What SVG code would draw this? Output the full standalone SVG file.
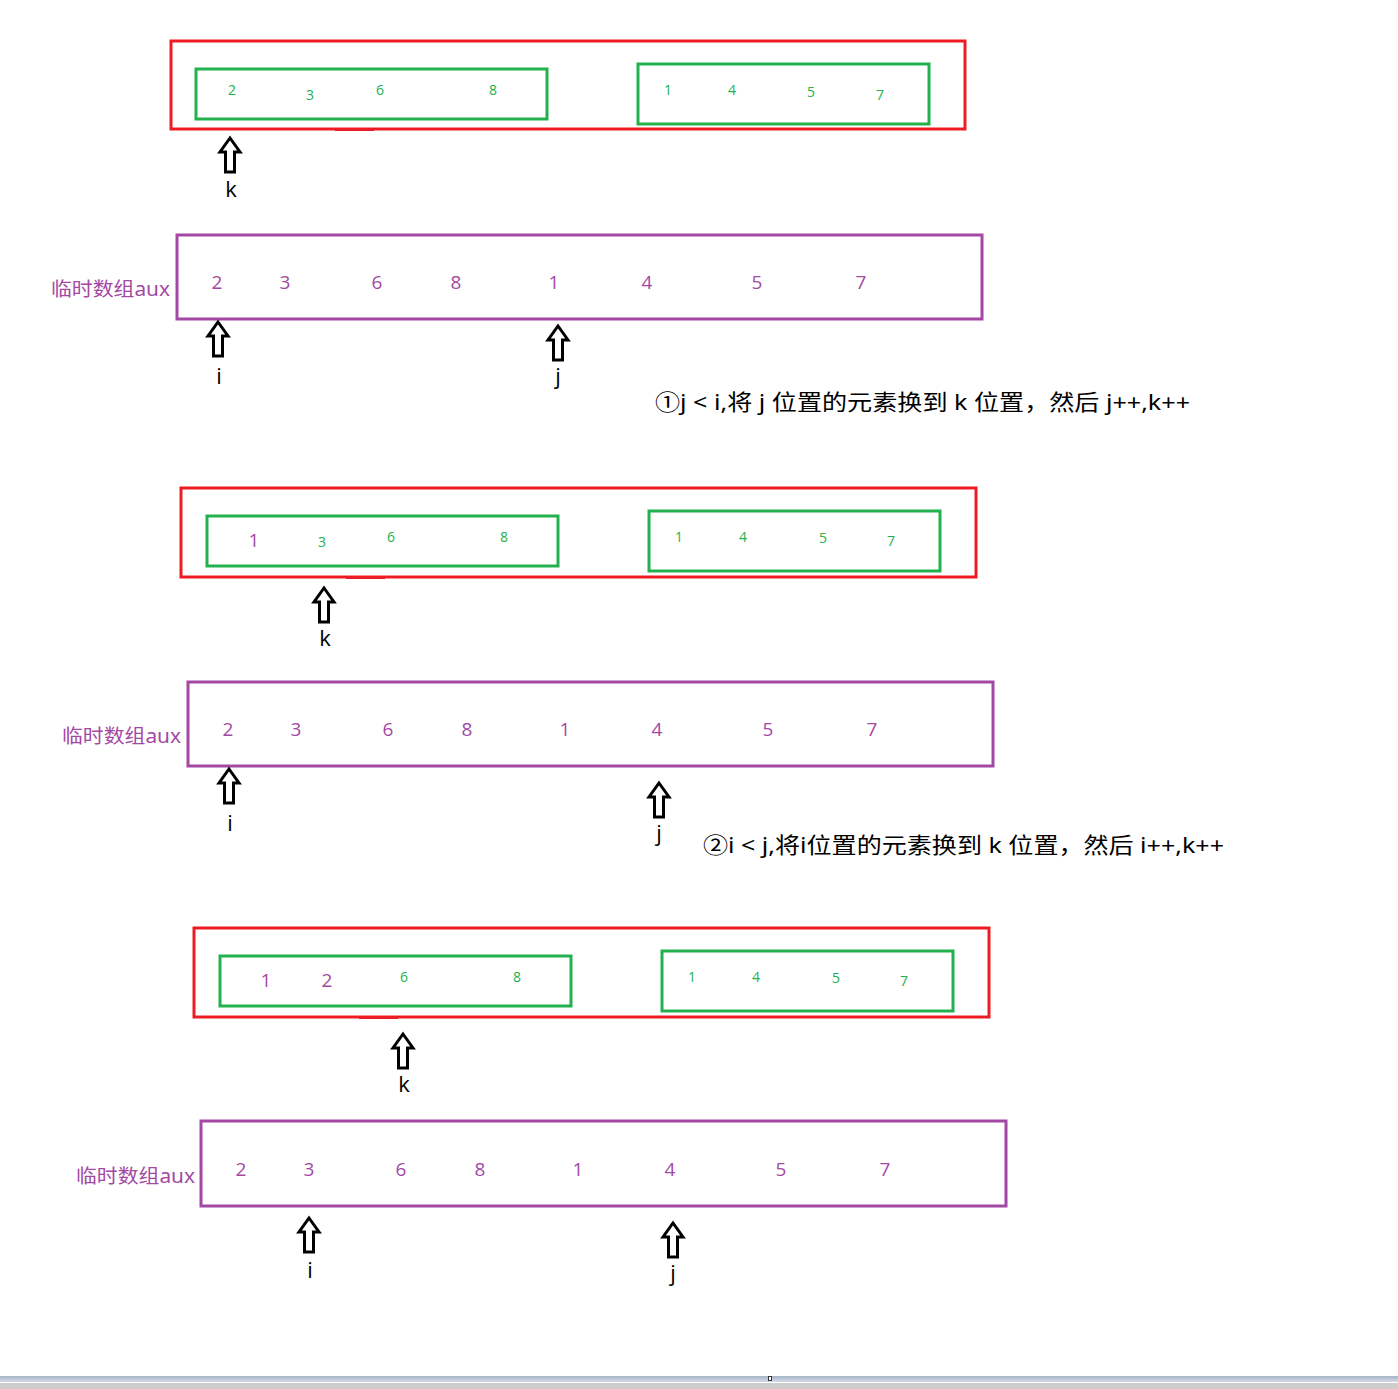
<svg xmlns="http://www.w3.org/2000/svg" width="1398" height="1389" viewBox="0 0 1398 1389">
<defs>
<style>
.red{fill:none;stroke:#ed1c24;stroke-width:3}
.grn{fill:none;stroke:#22b14c;stroke-width:3}
.pur{fill:none;stroke:#a349a4;stroke-width:3}
.gn{font-family:"Open Sans","Noto Sans",sans-serif;font-size:14px;fill:#22b14c;text-anchor:middle}
.pn{font-family:"Open Sans","Noto Sans",sans-serif;font-size:19px;fill:#a349a4;text-anchor:middle}
.lbl{font-family:"Noto Sans","Noto Sans CJK SC",sans-serif;font-size:19px;fill:#a349a4;text-anchor:end}
.ptr{font-family:"Open Sans","Noto Sans",sans-serif;font-size:22px;fill:#000;text-anchor:middle}
.note{font-family:"Noto Sans","Noto Sans CJK SC",sans-serif;font-size:22px;fill:#000}
.arr{fill:#fff;stroke:#000;stroke-width:3;stroke-linejoin:miter}
</style>
<path id="up" class="arr" d="M0,0 L10,14 L4.5,14 L4.5,34 L-4.5,34 L-4.5,14 L-10,14 Z"/>
<linearGradient id="bar" x1="0" y1="0" x2="0" y2="1"><stop offset="0" stop-color="#a7b4c6"/><stop offset="1" stop-color="#d3dbe6"/></linearGradient>
</defs>
<rect width="1398" height="1389" fill="#fff"/>

<!-- Section 1 -->
<g id="merge1">
<rect class="red" x="171" y="41" width="794" height="88"/>
<rect x="335" y="128" width="39" height="3" fill="#ed1c24"/>
<g id="left1"><rect class="grn" x="196" y="69" width="351" height="50"/>
<text class="gn" x="232" y="95">2</text><text class="gn" x="310" y="100">3</text><text class="gn" x="380" y="95">6</text><text class="gn" x="493" y="95">8</text></g>
<g id="right1"><rect class="grn" x="638" y="64" width="291" height="60"/>
<text class="gn" x="668" y="95">1</text><text class="gn" x="732" y="95">4</text><text class="gn" x="811" y="97">5</text><text class="gn" x="880" y="100">7</text></g>
</g>
<g id="k1"><use href="#up" x="230" y="138"/><text class="ptr" x="231" y="197">k</text></g>
<g id="aux1">
<text class="lbl" x="170" y="296" textLength="119" lengthAdjust="spacingAndGlyphs">临时数组aux</text>
<rect class="pur" x="177" y="235" width="805" height="84"/>
<text class="pn" x="217" y="289">2</text><text class="pn" x="285" y="289">3</text><text class="pn" x="377" y="289">6</text><text class="pn" x="456" y="289">8</text><text class="pn" x="554" y="289">1</text><text class="pn" x="647" y="289">4</text><text class="pn" x="757" y="289">5</text><text class="pn" x="861" y="289">7</text>
</g>
<g id="i1"><use href="#up" x="218" y="322"/><text class="ptr" x="219" y="384">i</text></g>
<g id="j1"><use href="#up" x="558" y="326"/><text class="ptr" x="558" y="384">j</text></g>
<text class="note" x="655" y="410" textLength="535" lengthAdjust="spacingAndGlyphs">①j &lt; i,将 j 位置的元素换到 k 位置，然后 j++,k++</text>

<!-- Section 2 -->
<g id="merge2">
<rect class="red" x="181" y="488" width="795" height="89"/>
<rect x="346" y="576" width="39" height="3" fill="#ed1c24"/>
<g id="left2"><rect class="grn" x="207" y="516" width="351" height="50"/>
<text class="pn" x="254" y="547">1</text><text class="gn" x="322" y="547">3</text><text class="gn" x="391" y="542">6</text><text class="gn" x="504" y="542">8</text></g>
<g id="right2"><rect class="grn" x="649" y="511" width="291" height="60"/>
<text class="gn" x="679" y="542">1</text><text class="gn" x="743" y="542">4</text><text class="gn" x="823" y="543">5</text><text class="gn" x="891" y="546">7</text></g>
</g>
<g id="k2"><use href="#up" x="324" y="588"/><text class="ptr" x="325" y="646">k</text></g>
<g id="aux2">
<text class="lbl" x="181" y="743" textLength="119" lengthAdjust="spacingAndGlyphs">临时数组aux</text>
<rect class="pur" x="188" y="682" width="805" height="84"/>
<text class="pn" x="228" y="736">2</text><text class="pn" x="296" y="736">3</text><text class="pn" x="388" y="736">6</text><text class="pn" x="467" y="736">8</text><text class="pn" x="565" y="736">1</text><text class="pn" x="657" y="736">4</text><text class="pn" x="768" y="736">5</text><text class="pn" x="872" y="736">7</text>
</g>
<g id="i2"><use href="#up" x="229" y="769"/><text class="ptr" x="230" y="831">i</text></g>
<g id="j2"><use href="#up" x="659" y="783"/><text class="ptr" x="659" y="841">j</text></g>
<text class="note" x="703" y="853" textLength="521" lengthAdjust="spacingAndGlyphs">②i &lt; j,将i位置的元素换到 k 位置，然后 i++,k++</text>

<!-- Section 3 -->
<g id="merge3">
<rect class="red" x="194" y="928" width="795" height="89"/>
<rect x="359" y="1016" width="39" height="3" fill="#ed1c24"/>
<g id="left3"><rect class="grn" x="220" y="956" width="351" height="50"/>
<text class="pn" x="266" y="987">1</text><text class="pn" x="327" y="987">2</text><text class="gn" x="404" y="982">6</text><text class="gn" x="517" y="982">8</text></g>
<g id="right3"><rect class="grn" x="662" y="951" width="291" height="60"/>
<text class="gn" x="692" y="982">1</text><text class="gn" x="756" y="982">4</text><text class="gn" x="836" y="983">5</text><text class="gn" x="904" y="986">7</text></g>
</g>
<g id="k3"><use href="#up" x="403" y="1034"/><text class="ptr" x="404" y="1092">k</text></g>
<g id="aux3">
<text class="lbl" x="195" y="1183" textLength="119" lengthAdjust="spacingAndGlyphs">临时数组aux</text>
<rect class="pur" x="201" y="1121" width="805" height="85"/>
<text class="pn" x="241" y="1176">2</text><text class="pn" x="309" y="1176">3</text><text class="pn" x="401" y="1176">6</text><text class="pn" x="480" y="1176">8</text><text class="pn" x="578" y="1176">1</text><text class="pn" x="670" y="1176">4</text><text class="pn" x="781" y="1176">5</text><text class="pn" x="885" y="1176">7</text>
</g>
<g id="i3"><use href="#up" x="309" y="1218"/><text class="ptr" x="310" y="1278">i</text></g>
<g id="j3"><use href="#up" x="673" y="1223"/><text class="ptr" x="673" y="1281">j</text></g>

<!-- bottom bar -->
<rect x="0" y="1376" width="1398" height="6" fill="url(#bar)"/>
<rect x="0" y="1383" width="1398" height="6" fill="#cdcdcd"/>
<rect x="768.5" y="1376.5" width="3" height="4" fill="#fff" stroke="#333" stroke-width="1"/>
</svg>
